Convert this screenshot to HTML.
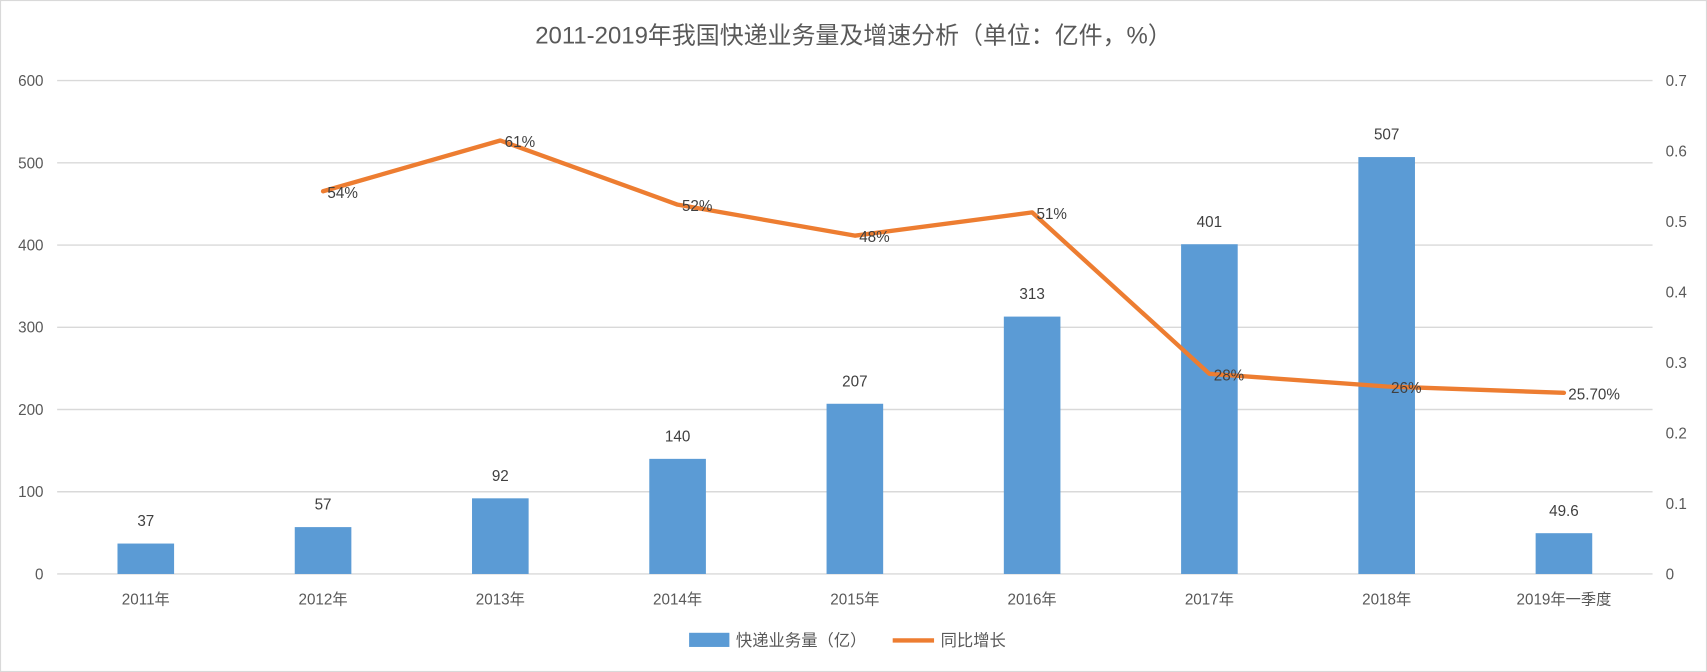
<!DOCTYPE html>
<html><head><meta charset="utf-8"><style>
html,body{margin:0;padding:0;background:#fff;}
svg{display:block;font-family:"Liberation Sans","Noto Sans CJK SC",sans-serif;}
</style></head><body>
<svg id="chart" width="1707" height="672" viewBox="0 0 1568 617" preserveAspectRatio="none" xmlns="http://www.w3.org/2000/svg">
<rect x="0.5" y="0.5" width="1567" height="616" fill="#fff" stroke="#d9d9d9"/>
<text x="784" y="40" text-anchor="middle" font-size="22" fill="#595959">2011-2019年我国快递业务量及增速分析（单位：亿件，%）</text>
<g id="grid"></g><g id="bars"></g><g id="line"></g><g id="labels"></g>
<g>
<rect x="633" y="581" width="37" height="13" fill="#5b9bd5"/>
<text x="676" y="593" font-size="15" fill="#595959">快递业务量（亿）</text>
<line x1="820" y1="588" x2="858" y2="588" stroke="#ed7d31" stroke-width="4"/>
<text x="864" y="593" font-size="15" fill="#595959">同比增长</text>
</g>
</svg>
<script>
const categories=["2011年","2012年","2013年","2014年","2015年","2016年","2017年","2018年","2019年一季度"];
const volumes=[37,57,92,140,207,313,401,507,49.6];
const volumeLabels=["37","57","92","140","207","313","401","507","49.6"];
const growth=[null,0.543,0.615,0.524,0.48,0.513,0.284,0.266,0.257];
const growthLabels=["","54%","61%","52%","48%","51%","28%","26%","25.70%"];
const leftTicks=[0,100,200,300,400,500,600];
const rightTicks=["0","0.1","0.2","0.3","0.4","0.5","0.6","0.7"];
const NS="http://www.w3.org/2000/svg";
const L=52.5,R=1518,T=74,B=527;
const band=(R-L)/categories.length;
const xc=i=>L+band*(i+0.5);
const yL=v=>B-(v/600)*(B-T);
const yR=v=>B-(v/0.7)*(B-T);
function mk(tag,attrs,parent,text){const e=document.createElementNS(NS,tag);for(const k in attrs)e.setAttribute(k,attrs[k]);if(text!==undefined)e.textContent=text;parent.appendChild(e);return e;}
const grid=document.getElementById('grid'),bars=document.getElementById('bars'),line=document.getElementById('line'),labels=document.getElementById('labels');
leftTicks.forEach(v=>{
 const g=mk('line',{x1:L,x2:R,y1:yL(v),y2:yL(v),stroke:'#d9d9d9','stroke-width':1.3},grid);
 
 
 const t=mk('text',{x:40,y:yL(v)+5,'text-anchor':'end','font-size':14,fill:'#595959'},grid,String(v));
 
 
});
rightTicks.forEach(s=>{
 const v=parseFloat(s);
 const t=mk('text',{x:1530,y:yR(v)+5,'font-size':14,fill:'#595959'},grid,s);
 
 
});
categories.forEach((c,i)=>{
 const t=mk('text',{x:xc(i),y:555,'text-anchor':'middle','font-size':14,fill:'#595959'},grid,c);
 
 
});
volumes.forEach((v,i)=>{
 const bw=52;
 const r=mk('rect',{x:xc(i)-bw/2,y:yL(v),width:bw,height:B-yL(v),fill:'#5b9bd5'},bars);
 
 
 const t=mk('text',{x:xc(i),y:yL(v)-16,'text-anchor':'middle','font-size':14,fill:'#404040'},labels,volumeLabels[i]);
 
 
});
let pts=[];
growth.forEach((g,i)=>{if(g!==null)pts.push([xc(i),yR(g),i]);});
const pl=mk('polyline',{points:pts.map(p=>p[0]+','+p[1]).join(' '),fill:'none',stroke:'#ed7d31','stroke-width':4,'stroke-linejoin':'round','stroke-linecap':'round'},line);


pts.forEach(p=>{
 const t=mk('text',{x:p[0]+4,y:p[1]+6,'font-size':14,fill:'#404040'},labels,growthLabels[p[2]]);
 
 
});
</script>
</body></html>
